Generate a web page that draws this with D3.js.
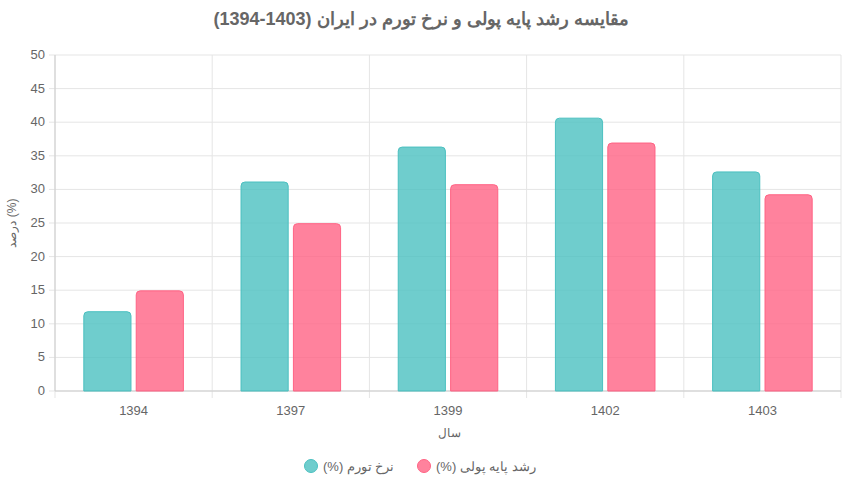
<!DOCTYPE html>
<html><head><meta charset="utf-8">
<script src="https://cdn.jsdelivr.net/npm/d3@7"></script>
<style>body{margin:0;background:#fff;font-family:"Liberation Sans",Arial,sans-serif}</style>
</head><body>
<svg id="c" width="842" height="488"></svg>
<script>
var years = ["1394", "1397", "1399", "1402", "1403"];
var inflation = [11.8, 31.1, 36.3, 40.6, 32.6];
var baseMoney = [14.9, 24.9, 30.7, 36.9, 29.2];
var yTicks = [0, 5, 10, 15, 20, 25, 30, 35, 40, 45, 50];
var seriesNames = ["(%) نرخ تورم", "(%) رشد پایه پولی"];

var svg = d3.select("#c");
var pLeft = 55, pRight = 841, pTop = 55, pBottom = 391;

var x = d3.scaleBand().domain(years).range([pLeft, pRight]);
var y = d3.scaleLinear().domain([0, 50]).range([pBottom, pTop]);

// grid
svg.append("g").selectAll("line").data(yTicks).enter().append("line")
  .attr("x1", pLeft - 6).attr("x2", pRight).attr("y1", d => y(d)).attr("y2", d => y(d))
  .attr("stroke", "#e5e5e5");
var bounds = years.map(d => x(d)).concat([pRight]);
svg.append("g").selectAll("line").data(bounds).enter().append("line")
  .attr("x1", d => d).attr("x2", d => d).attr("y1", pTop).attr("y2", pBottom + 7)
  .attr("stroke", "#e5e5e5");
svg.append("line").attr("x1", pLeft).attr("x2", pRight).attr("y1", pBottom).attr("y2", pBottom).attr("stroke", "#ccc");
svg.append("line").attr("x1", pLeft).attr("x2", pLeft).attr("y1", pTop).attr("y2", pBottom).attr("stroke", "#ccc");

svg.append("g").selectAll("text").data(yTicks).enter().append("text")
  .attr("x", pLeft - 10).attr("y", d => y(d) + 4).attr("text-anchor", "end")
  .attr("font-size", 13).attr("fill", "#666").text(d => d);
svg.append("g").selectAll("text").data(years).enter().append("text")
  .attr("x", d => x(d) + x.bandwidth() / 2).attr("y", pBottom + 24).attr("text-anchor", "middle")
  .attr("font-size", 13).attr("fill", "#666").text(d => d);

var inner = d3.scaleBand().domain([0, 1]).range([0, x.bandwidth()]).paddingInner(0.1).paddingOuter(0.55);
var colors = [["rgba(75,192,192,0.8)", "rgb(75,192,192)"], ["rgba(255,99,132,0.8)", "rgb(255,99,132)"]];
[inflation, baseMoney].forEach(function(vals, s) {
  svg.append("g").selectAll("path").data(vals).enter().append("path")
    .attr("d", function(v, i) {
      var x0 = x(years[i]) + inner(s), w = inner.bandwidth(), y0 = y(v), r = 4;
      return "M" + x0 + "," + pBottom + "V" + (y0 + r) + "Q" + x0 + "," + y0 + " " + (x0 + r) + "," + y0 +
        "H" + (x0 + w - r) + "Q" + (x0 + w) + "," + y0 + " " + (x0 + w) + "," + (y0 + r) + "V" + pBottom + "Z";
    })
    .attr("fill", colors[s][0]).attr("stroke", colors[s][1]).attr("stroke-width", 1);
});

svg.append("text").attr("x", 421).attr("y", 25).attr("text-anchor", "middle")
  .attr("font-size", 18).attr("font-weight", "bold").attr("fill", "#666")
  .text("مقایسه رشد پایه پولی و نرخ تورم در ایران (1403-1394)");
svg.append("text").attr("transform", "translate(16,223) rotate(-90)").attr("text-anchor", "middle")
  .attr("font-size", 12).attr("fill", "#666").text("درصد (%)");
svg.append("text").attr("x", 449).attr("y", 437).attr("text-anchor", "middle")
  .attr("font-size", 12).attr("fill", "#666").text("سال");

var lx = [311, 424];
seriesNames.forEach(function(n, s) {
  svg.append("circle").attr("cx", lx[s]).attr("cy", 466).attr("r", 6.5)
    .attr("fill", colors[s][0]).attr("stroke", colors[s][1]);
  svg.append("text").attr("x", lx[s] + 12).attr("y", 471).attr("font-size", 13).attr("fill", "#666")
    .attr("direction", "ltr").text(n);
});
</script>
</body></html>
